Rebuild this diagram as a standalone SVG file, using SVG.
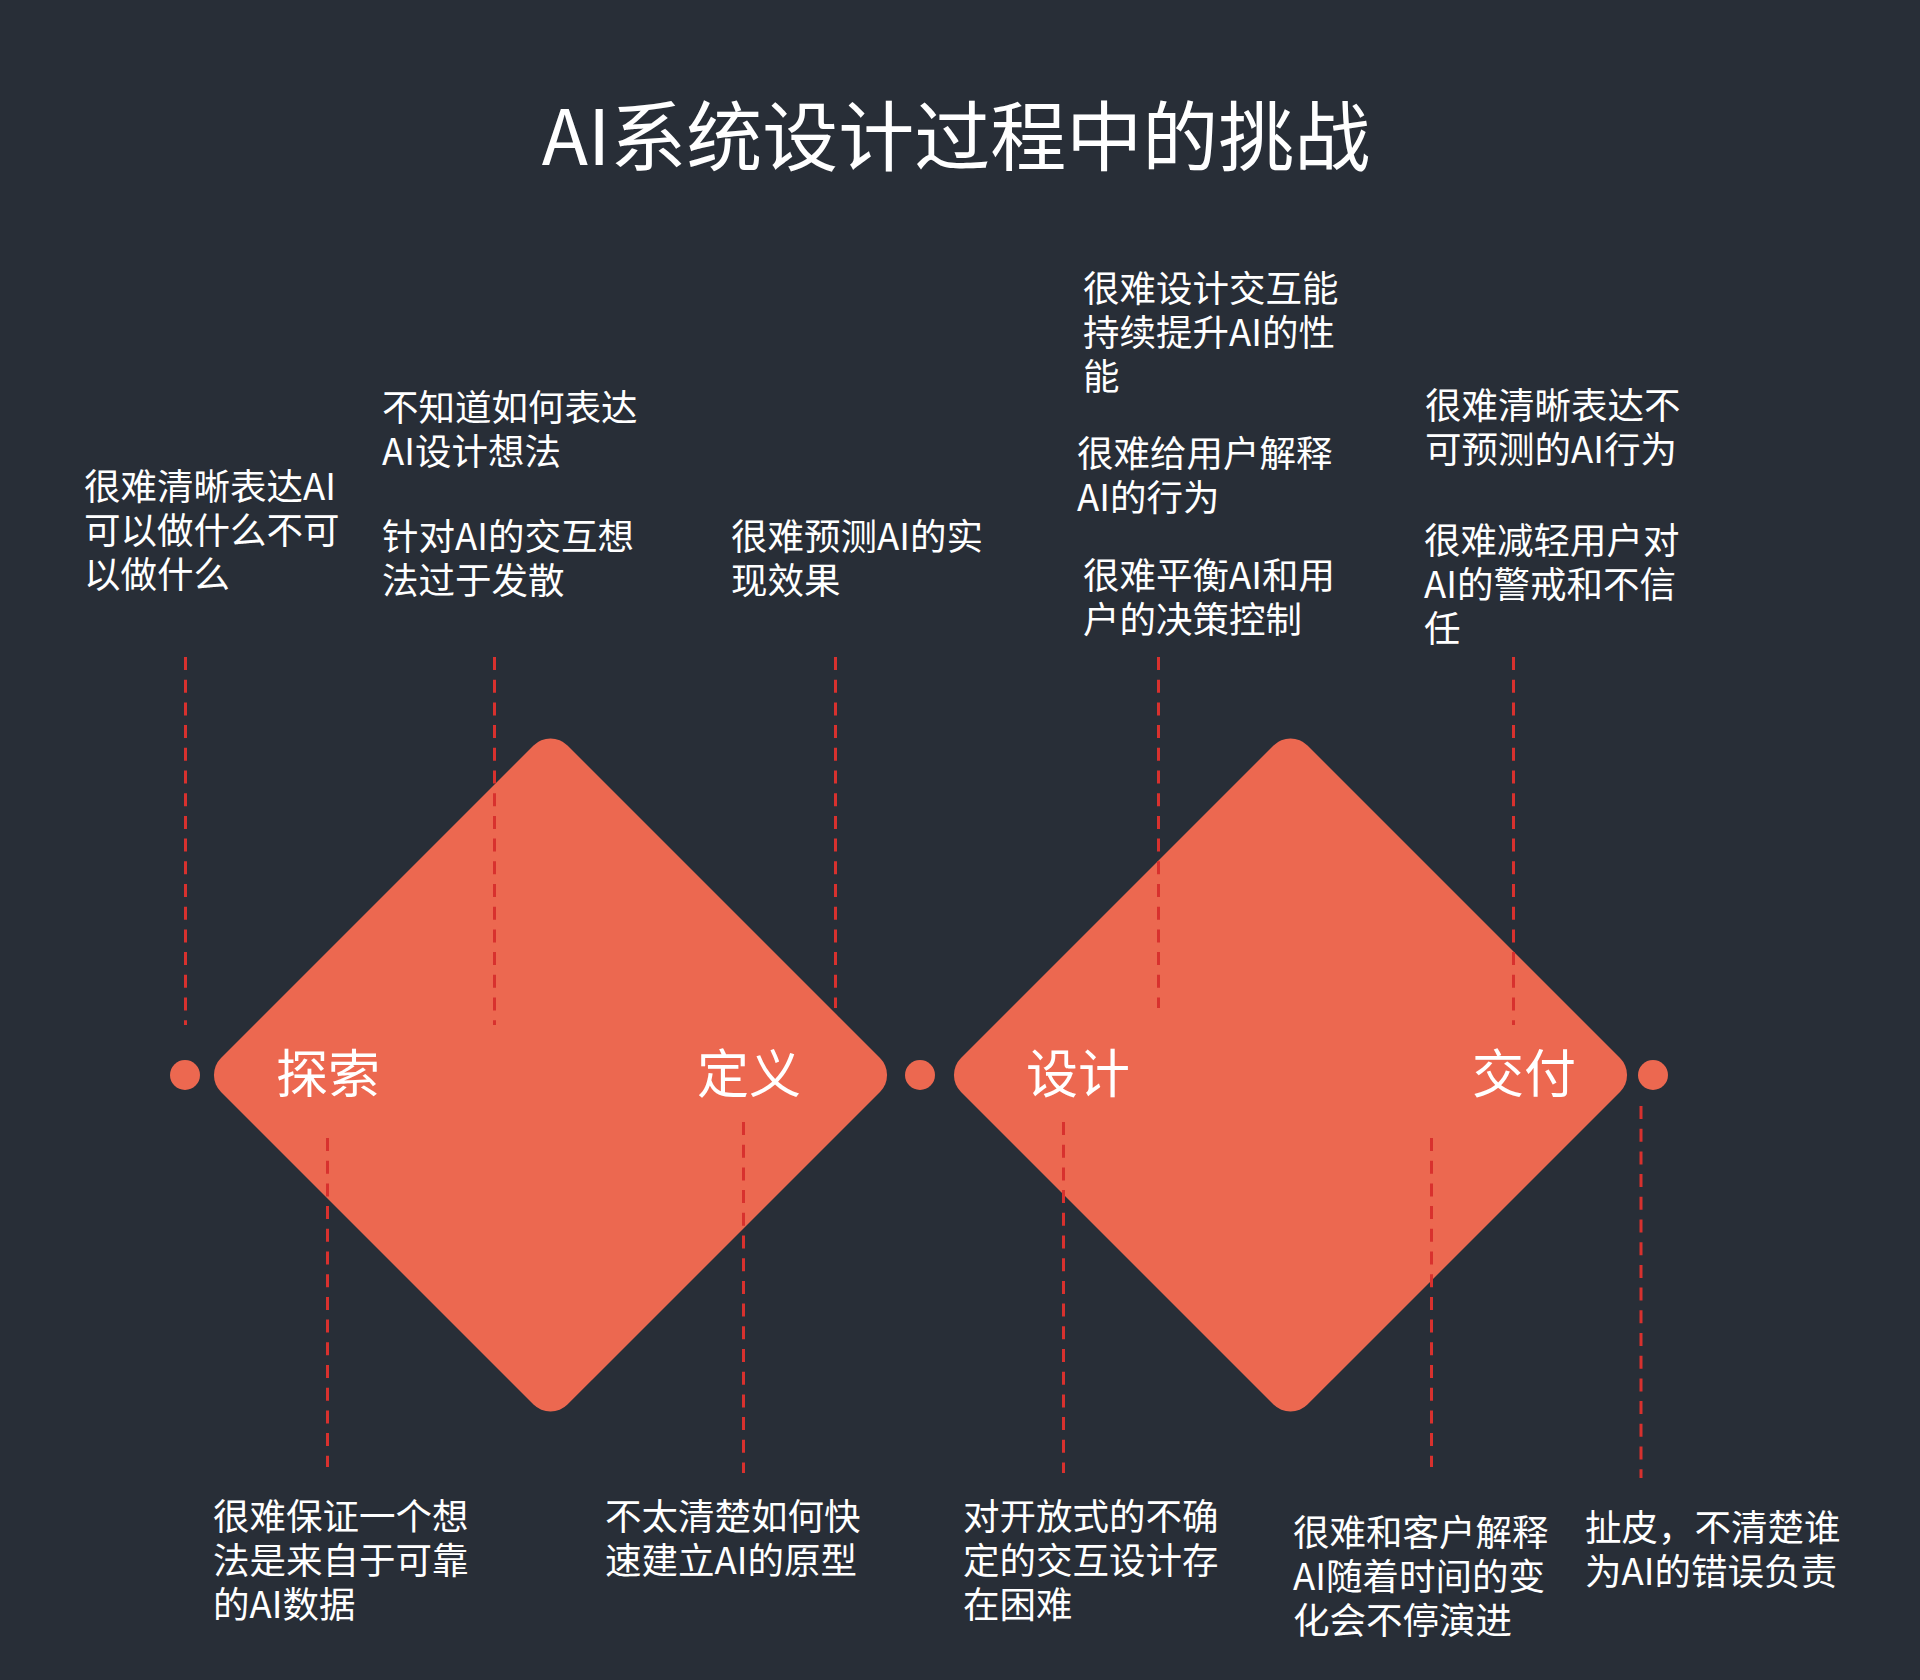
<svg xmlns="http://www.w3.org/2000/svg" width="1920" height="1680" viewBox="0 0 1920 1680">
  <style>
    .bg { fill: #282e37; }
    .diamond { fill: #ec6850; }
    .dot { fill: #ec6850; }
    .dash { stroke: #d8312e; stroke-width: 3; stroke-dasharray: 13 9.7; fill: none; }
    text { font-family: "Noto Sans CJK SC", "Noto Sans", sans-serif; fill: #ffffff; }
    .title { font-size: 76px; }
    .stage { font-size: 52px; }
    .note { font-size: 36.5px; }
  </style>
  <rect class="bg" x="0" y="0" width="1920" height="1680"/>

  <text class="title" x="956" y="165" text-anchor="middle">AI系统设计过程中的挑战</text>

  <g id="diamond-1">
    <rect class="diamond" x="-245" y="-245" width="490" height="490" rx="24" transform="translate(550.5 1075) rotate(45)"/>
  </g>
  <g id="diamond-2">
    <rect class="diamond" x="-245" y="-245" width="490" height="490" rx="24" transform="translate(1290.5 1075) rotate(45)"/>
  </g>

  <g id="dot-1"><circle class="dot" cx="185" cy="1075" r="15"/></g>
  <g id="dot-2"><circle class="dot" cx="920" cy="1075" r="15"/></g>
  <g id="dot-3"><circle class="dot" cx="1653" cy="1075" r="15"/></g>

  <g id="connectors">
    <line class="dash" x1="185.5" y1="657" x2="185.5" y2="1025"/>
    <line class="dash" x1="494.5" y1="657" x2="494.5" y2="1025"/>
    <line class="dash" x1="835.5" y1="657" x2="835.5" y2="1008"/>
    <line class="dash" x1="1158.5" y1="657" x2="1158.5" y2="1008"/>
    <line class="dash" x1="1513.5" y1="657" x2="1513.5" y2="1025"/>
    <line class="dash" x1="327.5" y1="1138" x2="327.5" y2="1467"/>
    <line class="dash" x1="743.5" y1="1122" x2="743.5" y2="1473"/>
    <line class="dash" x1="1063.5" y1="1122" x2="1063.5" y2="1473"/>
    <line class="dash" x1="1431.5" y1="1138" x2="1431.5" y2="1467"/>
    <line class="dash" x1="1641" y1="1106" x2="1641" y2="1478"/>
  </g>

  <g id="stage-explore"><text class="stage" x="276" y="1093">探索</text></g>
  <g id="stage-define"><text class="stage" x="697" y="1093">定义</text></g>
  <g id="stage-design"><text class="stage" x="1026" y="1093">设计</text></g>
  <g id="stage-deliver"><text class="stage" x="1472" y="1093">交付</text></g>

  <g id="note-a">
    <text class="note" x="84" y="500">很难清晰表达AI</text>
    <text class="note" x="84" y="544">可以做什么不可</text>
    <text class="note" x="84" y="588">以做什么</text>
  </g>
  <g id="note-b">
    <text class="note" x="382" y="421">不知道如何表达</text>
    <text class="note" x="382" y="465">AI设计想法</text>
  </g>
  <g id="note-c">
    <text class="note" x="382" y="550">针对AI的交互想</text>
    <text class="note" x="382" y="594">法过于发散</text>
  </g>
  <g id="note-d">
    <text class="note" x="731" y="550">很难预测AI的实</text>
    <text class="note" x="731" y="594">现效果</text>
  </g>
  <g id="note-e">
    <text class="note" x="1083" y="302">很难设计交互能</text>
    <text class="note" x="1083" y="346">持续提升AI的性</text>
    <text class="note" x="1083" y="390">能</text>
  </g>
  <g id="note-f">
    <text class="note" x="1077" y="467">很难给用户解释</text>
    <text class="note" x="1077" y="511">AI的行为</text>
  </g>
  <g id="note-g">
    <text class="note" x="1083" y="589">很难平衡AI和用</text>
    <text class="note" x="1083" y="633">户的决策控制</text>
  </g>
  <g id="note-h">
    <text class="note" x="1425" y="419">很难清晰表达不</text>
    <text class="note" x="1425" y="463">可预测的AI行为</text>
  </g>
  <g id="note-i">
    <text class="note" x="1424" y="554">很难减轻用户对</text>
    <text class="note" x="1424" y="598">AI的警戒和不信</text>
    <text class="note" x="1424" y="642">任</text>
  </g>
  <g id="note-j">
    <text class="note" x="213" y="1530">很难保证一个想</text>
    <text class="note" x="213" y="1574">法是来自于可靠</text>
    <text class="note" x="213" y="1618">的AI数据</text>
  </g>
  <g id="note-k">
    <text class="note" x="605" y="1530">不太清楚如何快</text>
    <text class="note" x="605" y="1574">速建立AI的原型</text>
  </g>
  <g id="note-l">
    <text class="note" x="963" y="1530">对开放式的不确</text>
    <text class="note" x="963" y="1574">定的交互设计存</text>
    <text class="note" x="963" y="1618">在困难</text>
  </g>
  <g id="note-m">
    <text class="note" x="1293" y="1546">很难和客户解释</text>
    <text class="note" x="1293" y="1590">AI随着时间的变</text>
    <text class="note" x="1293" y="1634">化会不停演进</text>
  </g>
  <g id="note-n">
    <text class="note" x="1585" y="1541">扯皮，不清楚谁</text>
    <text class="note" x="1585" y="1585">为AI的错误负责</text>
  </g>
</svg>
